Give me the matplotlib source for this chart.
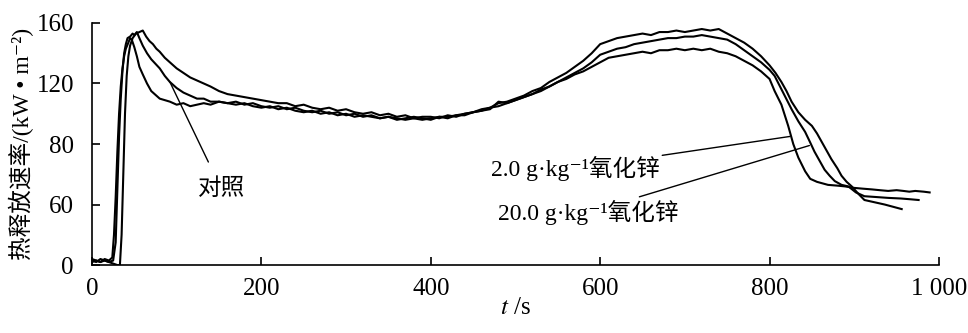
import matplotlib
matplotlib.use("Agg")
from matplotlib import pyplot as plt

plt.rcParams['font.family'] = ['Liberation Serif', 'Noto Sans CJK SC', 'DejaVu Sans']
plt.rcParams['mathtext.fontset'] = 'stix'

# common sampling grid of the middle part (s)
t_mid = [160, 170, 180, 190, 200, 210, 220, 230, 240, 250, 260, 270, 280, 290, 300,
         310, 320, 330, 340, 350, 360, 370, 380, 390, 400, 410, 420, 430, 440, 450,
         460, 470, 480, 490, 500, 510, 520, 530, 540, 550, 560, 570, 580, 590, 600,
         610, 620, 630, 640, 650, 660, 670, 680, 690, 700, 710, 720, 730, 740, 750,
         760, 770, 780, 790, 800]

# 对照
ctrl_t0 = [0, 5, 10, 15, 20, 25, 28, 30, 32, 34, 36, 38, 40, 42, 45, 48, 50, 53, 56, 60,
           65, 70, 75, 80, 86, 92, 100, 108, 116, 124, 132, 140, 150]
ctrl_y0 = [3, 2, 4, 3, 2, 3, 15, 50, 85, 110, 128, 140, 146, 150, 151, 153, 152, 154, 150, 145,
           140, 136, 133, 130, 125, 121, 117, 114, 112, 110, 110, 108, 108]
ctrl_ym = [107, 106, 107, 105, 104,
           105, 103, 104, 102, 101, 102, 100, 101, 99, 100,
           98, 99, 98, 97, 98, 97, 96, 97, 96, 97,
           98, 98, 99, 100, 101, 103, 104, 107, 108, 110,
           112, 115, 117, 121, 124, 127, 131, 135, 140, 146,
           148, 150, 151, 152, 153, 152, 154, 154, 155, 154,
           155, 156, 155, 156, 153, 150, 147, 143, 138, 132]
ctrl_t1 = [807, 814, 820, 826, 834, 842, 850, 856, 862, 868, 873, 880, 885, 891, 897,
           905, 912, 920, 928, 936, 946, 956]
ctrl_y1 = [127, 121, 115, 108, 101, 96, 92, 87, 81, 75, 70, 64, 59, 55, 52,
           47, 43, 42, 41, 40, 38.5, 37]

# 2.0 g/kg 氧化锌
zn2_t0 = [0, 5, 10, 15, 20, 24, 26, 28, 30, 32, 34, 36, 38, 40, 43, 45, 47, 50, 53, 56,
          60, 65, 70, 76, 80, 86, 92, 100, 108, 116, 124, 132, 140, 150]
zn2_y0 = [4, 3, 2, 4, 3, 5, 20, 45, 75, 100, 118, 130, 138, 143, 147, 150, 149, 144, 138, 131,
          126, 120, 115, 112, 110, 109, 108, 106, 107, 105, 106, 107, 106, 108]
zn2_ym = [107, 108, 106, 107, 105,
          104, 105, 103, 104, 102, 101, 102, 100, 101, 99,
          100, 98, 99, 97, 98, 96, 97, 98, 97, 96,
          98, 97, 99, 99, 101, 102, 104, 105, 107, 109,
          111, 113, 116, 118, 121, 123, 126, 128, 131, 134,
          137, 138, 139, 140, 141, 140, 142, 142, 143, 142,
          143, 142, 143, 141, 140, 138, 135, 132, 128, 123]
zn2_t1 = [806, 814, 818, 822, 828, 834, 842, 848, 856, 869, 880, 889, 900, 910, 921,
          930, 940, 950, 958, 965, 972, 982, 989]
zn2_y1 = [115, 106, 99, 92, 80, 71, 62, 57, 55, 53, 52.5, 52, 51, 50.5, 50,
          49.5, 49, 49.5, 49, 48.5, 49, 48.5, 48]

# 20.0 g/kg 氧化锌
zn20_t0 = [0, 5, 10, 15, 20, 25, 30, 33, 35, 37, 39, 41, 43, 45, 48, 52, 56, 60, 64, 68,
           72, 76, 80, 86, 92, 100, 108, 116, 124, 132, 140, 150]
zn20_y0 = [2, 3, 2, 3, 2, 1, 0, 0, 20, 60, 100, 125, 138, 145, 150, 153, 154, 155, 151, 148,
           146, 143, 141, 137, 134, 130, 127, 124, 122, 120, 118, 115]
zn20_ym = [113, 112, 111, 110, 109,
           108, 107, 107, 105, 106, 104, 103, 104, 102, 103,
           101, 100, 101, 99, 100, 98, 99, 97, 98, 98,
           97, 99, 98, 100, 101, 102, 103, 108, 107, 109,
           111, 113, 115, 118, 121, 124, 127, 130, 134, 139,
           141, 143, 144, 146, 147, 148, 149, 150, 150, 151,
           151, 152, 151, 150, 149, 146, 142, 138, 134, 129]
zn20_t1 = [806, 816, 826, 834, 842, 848, 853, 859, 865, 871, 877, 885, 893, 902, 912,
           925, 940, 955, 966, 976]
zn20_y1 = [125, 114, 103, 95, 88, 81, 75, 69, 63, 59, 55.5, 53, 52, 48, 45.5,
           45, 44.4, 44, 43.5, 43]

y_ticks = [0, 40, 80, 120, 160]
y_tick_labels = ['0', '60', '80', '120', '160']
x_ticks = [0, 200, 400, 600, 800, 1000]
x_tick_labels = ['0', '200', '400', '600', '800', '1 000']

fig = plt.figure(figsize=(9.68, 3.33), dpi=100)
ax = fig.add_axes([0.095, 0.204, 0.875, 0.727])

for t0, y0, ym, t1, y1 in [(ctrl_t0, ctrl_y0, ctrl_ym, ctrl_t1, ctrl_y1),
                           (zn2_t0, zn2_y0, zn2_ym, zn2_t1, zn2_y1),
                           (zn20_t0, zn20_y0, zn20_ym, zn20_t1, zn20_y1)]:
    ax.plot(t0 + t_mid + t1, y0 + ym + y1, color='black', lw=1.5)

ax.set_xlim(0, 1000)
ax.set_ylim(0, 160)
ax.set_xticks(x_ticks)
ax.set_xticklabels(x_tick_labels)
ax.set_yticks(y_ticks)
ax.set_yticklabels(y_tick_labels)
ax.spines['top'].set_visible(False)
ax.spines['right'].set_visible(False)
for s in ['left', 'bottom']:
    ax.spines[s].set_linewidth(1.2)
ax.tick_params(axis='both', direction='in', length=6, width=1.2, labelsize=18)
ax.tick_params(axis='y', pad=13)
ax.tick_params(axis='x', pad=9)

ax.set_xlabel(r'$t$ /s', fontsize=18, labelpad=-2)
ax.set_ylabel('热释放速率/(kW • m⁻²)', fontsize=17, labelpad=2)

# annotations with leader lines
ax.annotate('对照', xy=(92, 121), xytext=(153, 50), fontsize=17,
            ha='center', va='center',
            arrowprops=dict(arrowstyle='-', color='black', lw=1,
                            shrinkA=11, shrinkB=0))
ax.annotate('2.0 g·kg⁻¹氧化锌', xy=(824, 85), xytext=(670, 64), fontsize=17,
            ha='right', va='center',
            arrowprops=dict(arrowstyle='-', color='black', lw=1,
                            shrinkA=0, shrinkB=0))
ax.annotate('20.0 g·kg⁻¹氧化锌', xy=(847, 79), xytext=(693, 35), fontsize=17,
            ha='right', va='center',
            arrowprops=dict(arrowstyle='-', color='black', lw=1,
                            shrinkA=0, shrinkB=0))

fig.savefig('out.png', dpi=100)
